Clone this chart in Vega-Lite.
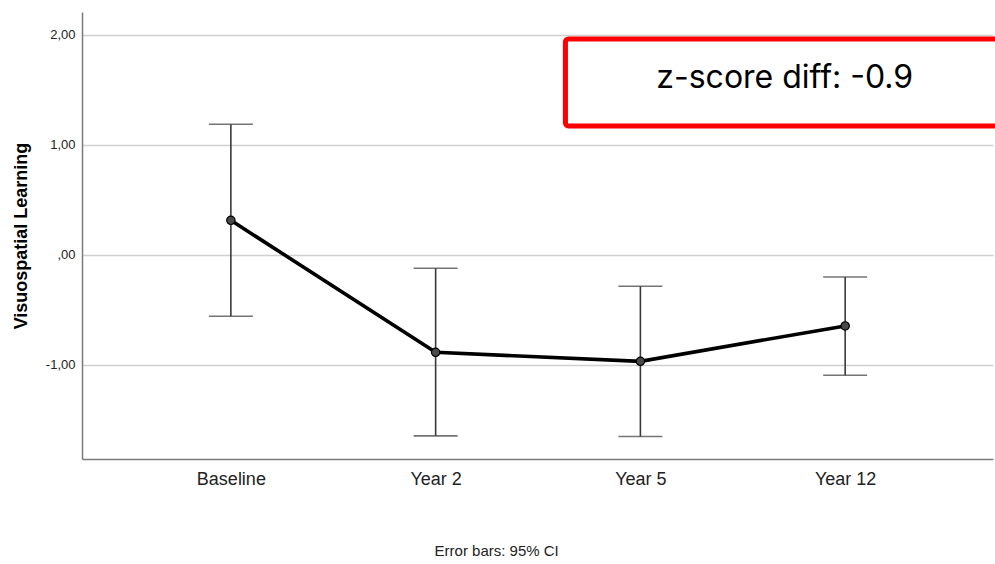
{
  "$schema": "https://vega.github.io/schema/vega-lite/v6.json",
  "width": 911,
  "height": 447,
  "autosize": {"type": "none"},
  "padding": {"left": 82, "top": 12, "right": 2, "bottom": 105},
  "background": "white",
  "config": {"view": {"stroke": null}, "font": "Liberation Sans"},
  "datasets": {
    "points": [
      {"t": 1, "label": "Baseline", "mean": 0.315, "lo": -0.557, "hi": 1.188},
      {"t": 2, "label": "Year 2", "mean": -0.885, "lo": -1.645, "hi": -0.121},
      {"t": 3, "label": "Year 5", "mean": -0.967, "lo": -1.651, "hi": -0.285},
      {"t": 4, "label": "Year 12", "mean": -0.645, "lo": -1.094, "hi": -0.2}
    ],
    "box": [{"x1": 2.634, "x2": 4.78, "y1": 1.173, "y2": 1.964, "tx": 3.705, "ty": 1.609, "label": "z-score diff: -0.9"}],
    "note": [{"x": 2.298, "y": -2.69, "label": "Error bars: 95% CI"}]
  },
  "encoding": {
    "x": {"type": "quantitative",
      "scale": {"domain": [0.273, 4.722], "nice": false, "zero": false},
      "axis": {"values": [1, 2, 3, 4], "labelExpr": "['','Baseline','Year 2','Year 5','Year 12'][datum.value]",
        "grid": false, "ticks": false, "domainColor": "#7a7a7a", "domainWidth": 1.5,
        "labelFontSize": 18, "labelColor": "#222222", "labelPadding": 11, "title": null}},
    "y": {"type": "quantitative",
      "scale": {"domain": [-1.855, 2.209], "nice": false, "zero": false},
      "axis": {"values": [-1, 0, 1, 2],
        "labelExpr": "datum.value == 0 ? ',00' : (datum.value < 0 ? '-' : '') + replace(format(abs(datum.value), '.2f'), '.', ',')",
        "grid": true, "gridColor": "#d0d0d0", "gridWidth": 1.5, "ticks": false,
        "domainColor": "#7a7a7a", "domainWidth": 1.5, "labelFontSize": 13, "labelColor": "#222222",
        "labelPadding": 7, "title": "Visuospatial Learning", "titleFontSize": 18, "titleFontWeight": "bold",
        "titleColor": "#000000", "titlePadding": 15}}
  },
  "layer": [
    {
      "data": {"name": "points"},
      "mark": {"type": "rule", "color": "#3a3a3a", "strokeWidth": 1.6},
      "encoding": {
        "x": {"field": "t"},
        "y": {"field": "lo"},
        "y2": {"field": "hi"}
      }
    },
    {
      "data": {"name": "points"},
      "mark": {"type": "tick", "orient": "horizontal", "color": "#3a3a3a", "size": 44, "thickness": 1.6},
      "encoding": {
        "x": {"field": "t"},
        "y": {"field": "lo"}
      }
    },
    {
      "data": {"name": "points"},
      "mark": {"type": "tick", "orient": "horizontal", "color": "#3a3a3a", "size": 44, "thickness": 1.6},
      "encoding": {
        "x": {"field": "t"},
        "y": {"field": "hi"}
      }
    },
    {
      "data": {"name": "points"},
      "mark": {"type": "line", "color": "#000000", "strokeWidth": 3.6},
      "encoding": {
        "x": {"field": "t"},
        "y": {"field": "mean"}
      }
    },
    {
      "data": {"name": "points"},
      "mark": {"type": "point", "filled": true, "fill": "#4a4a4a", "stroke": "#000000", "strokeWidth": 1.2, "size": 70, "opacity": 1},
      "encoding": {
        "x": {"field": "t"},
        "y": {"field": "mean"}
      }
    },
    {
      "data": {"name": "box"},
      "mark": {"type": "rect", "fill": "#ffffff", "stroke": "#ff0000", "strokeWidth": 5, "cornerRadius": 3, "clip": false},
      "encoding": {
        "x": {"field": "x1"},
        "x2": {"field": "x2"},
        "y": {"field": "y1"},
        "y2": {"field": "y2"}
      }
    },
    {
      "data": {"name": "box"},
      "mark": {"type": "text", "font": "Inter", "fontSize": 32, "color": "#000000", "align": "center", "baseline": "middle"},
      "encoding": {
        "x": {"field": "tx"},
        "y": {"field": "ty"},
        "text": {"field": "label"}
      }
    },
    {
      "data": {"name": "note"},
      "mark": {"type": "text", "fontSize": 15, "color": "#222222", "align": "center", "baseline": "middle", "clip": false},
      "encoding": {
        "x": {"field": "x"},
        "y": {"field": "y"},
        "text": {"field": "label"}
      }
    }
  ]
}
